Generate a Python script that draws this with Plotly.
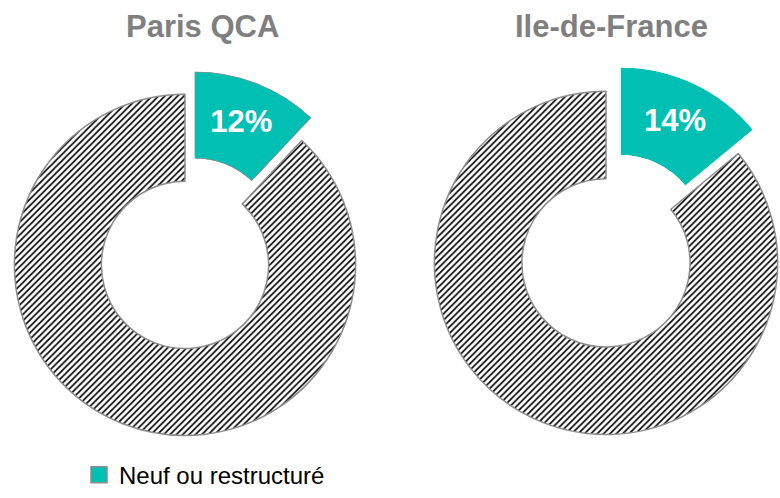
import math
import plotly.graph_objects as go

# ---------------- data ----------------
regions = ["Paris QCA", "Ile-de-France"]
neuf_pct = [12, 14]          # share "Neuf ou restructuré"
autre_pct = [88, 86]         # remaining share (hatched)
series_names = ["Neuf ou restructuré", "Autre"]

# ---------------- style / layout ----------------
W, H = 780, 498
TEAL = "#00BFB3"
LINE_GRAY = "#8c8c8c"
TITLE_GRAY = "#7f7f7f"
FONT = "Arial, Liberation Sans, sans-serif"
HOLE = 0.49

# positions below are in window pixels
rings = [dict(cx=185, cy=267, r=172), dict(cx=606, cy=265, r=173)]   # hatched ring centre
teal_centres = [(194, 244), (620, 241)]                               # exploded slice centre
teal_line_w = [1.5, 0]
title_pos = [(202, 27), (611, 27)]
legend_pos = (79, 479)


def fx(x):
    return x / W


def fy(y):
    return 1 - y / H


fig = go.Figure()
layout_polars = {}

for i, reg in enumerate(regions):
    g = rings[i]
    fig.add_trace(go.Pie(
        values=[neuf_pct[i], autre_pct[i]],
        labels=series_names,
        sort=False, direction="clockwise", rotation=0,
        hole=HOLE,
        textinfo="none",
        marker=dict(
            colors=["rgba(0,0,0,0)", "white"],
            line=dict(color=["rgba(0,0,0,0)", LINE_GRAY], width=1.5),
            pattern=dict(shape=["", "/"], fgcolor="black", bgcolor="white",
                         size=4.5, solidity=0.36, fillmode="replace"),
        ),
        domain=dict(x=[fx(g["cx"] - g["r"]), min(1.0, fx(g["cx"] + g["r"]))],
                    y=[fy(g["cy"] + g["r"]), fy(g["cy"] - g["r"])]),
        showlegend=False, hoverinfo="skip",
    ))

    span = 360.0 * neuf_pct[i] / 100.0
    a0 = 90.0 - span
    tcx, tcy = teal_centres[i]
    r = g["r"]
    x_right = tcx + r * math.cos(math.radians(a0))
    pname = "polar" if i == 0 else f"polar{i + 1}"
    layout_polars[pname] = dict(
        domain=dict(x=[fx(tcx), fx(x_right)], y=[fy(tcy), fy(tcy - r)]),
        sector=[a0, 90],
        hole=HOLE,
        bgcolor="rgba(0,0,0,0)",
        radialaxis=dict(visible=False, range=[0, 1]),
        angularaxis=dict(visible=False, rotation=90, direction="clockwise"),
    )
    fig.add_trace(go.Barpolar(
        r=[1], theta=[span / 2], width=[span], base=[0],
        marker=dict(color=TEAL, line=dict(color=LINE_GRAY, width=teal_line_w[i])),
        subplot=pname, showlegend=False, hoverinfo="skip",
    ))
    fig.add_trace(go.Scatterpolar(
        r=[0.5], theta=[span / 2], mode="text",
        text=[f"{neuf_pct[i]}%"],
        textposition="middle center",
        textfont=dict(color="white", size=31, family=FONT, weight="bold"),
        cliponaxis=False,
        subplot=pname, showlegend=False, hoverinfo="skip",
    ))

fig.add_trace(go.Scatter(
    x=[None], y=[None], mode="markers", name=series_names[0],
    marker=dict(symbol="square", size=16, color=TEAL, line=dict(color=LINE_GRAY, width=1.5)),
    showlegend=True, hoverinfo="skip",
))

annotations = []
for i, reg in enumerate(regions):
    x, y = title_pos[i]
    annotations.append(dict(
        text=reg, x=fx(x), y=fy(y), xref="paper", yref="paper",
        xanchor="center", yanchor="middle", showarrow=False,
        font=dict(family=FONT, size=31, color=TITLE_GRAY, weight="bold"),
    ))

fig.update_layout(
    width=W, height=H,
    margin=dict(l=0, r=0, t=0, b=0),
    paper_bgcolor="white", plot_bgcolor="white",
    xaxis=dict(visible=False), yaxis=dict(visible=False),
    annotations=annotations,
    showlegend=True,
    legend=dict(orientation="h", x=fx(legend_pos[0]), y=fy(legend_pos[1]),
                xanchor="left", yanchor="middle",
                font=dict(family=FONT, size=24, color="black"), bgcolor="rgba(0,0,0,0)"),
    **layout_polars,
)

# remove the browser's default 8px body margin so the 780x498 figure fills the window exactly
fig.write_html(
    "out.html",
    config={"displayModeBar": False},
    post_script="document.body.style.margin='0';document.body.style.overflow='hidden';",
)
